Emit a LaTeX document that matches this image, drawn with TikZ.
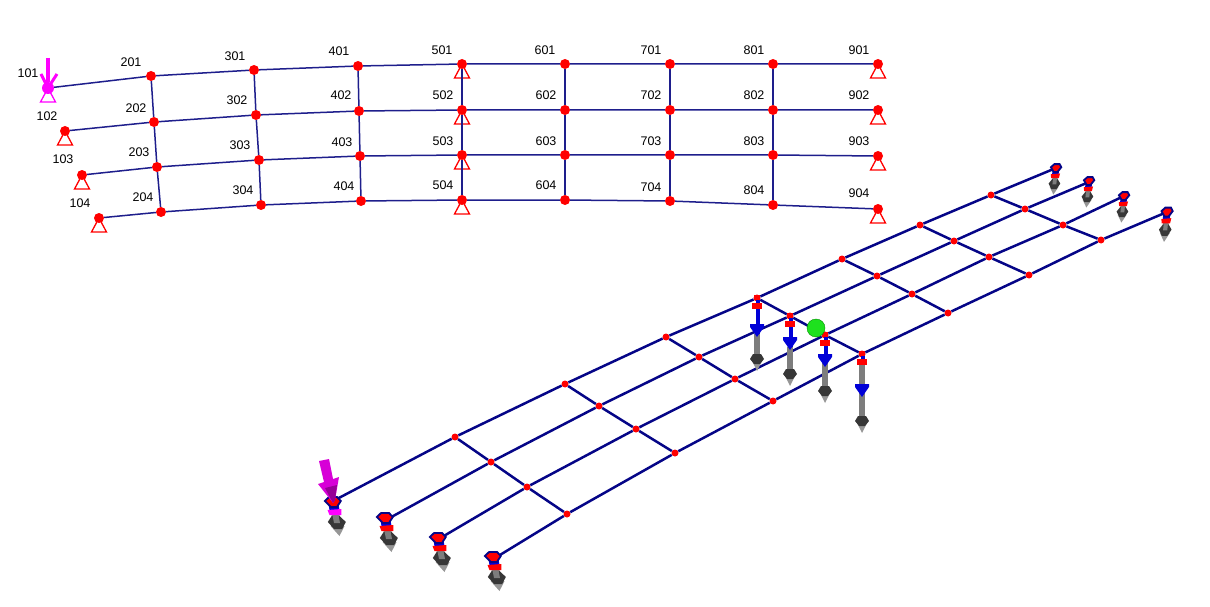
\documentclass[tikz,border=0pt]{standalone}
\usepackage{fontspec}
\setmainfont{Liberation Sans}
\usetikzlibrary{positioning}
\definecolor{planline}{RGB}{30,30,140}
\definecolor{deckline}{RGB}{5,5,135}
\definecolor{rodgrey}{RGB}{125,125,125}
\definecolor{discgrey}{RGB}{55,55,55}
\definecolor{tipgrey}{RGB}{150,150,150}
\definecolor{loadblue}{RGB}{0,0,215}
\definecolor{pinkplan}{RGB}{255,0,255}
\definecolor{pinkload}{RGB}{215,0,215}
\definecolor{pinkdark}{RGB}{150,0,150}
\definecolor{ballgreen}{RGB}{30,225,30}
\definecolor{pureblack}{RGB}{0,0,0}
\definecolor{purered}{RGB}{255,0,0}
\begin{document}
\begin{tikzpicture}[
    x=1pt, y=-1pt,
    joint/.style={circle, fill=purered, inner sep=0pt, minimum size=10pt},
    deckjoint/.style={circle, fill=purered, inner sep=0pt, minimum size=7pt},
    num/.style={inner sep=0pt, text=pureblack, font=\fontsize{12.5}{14}\selectfont},
    planbeam/.style={draw=planline, line width=1.5pt},
    deckbeam/.style={draw=deckline, line width=2.5pt},
    pics/support/.style={code={
        \draw[#1, line width=1.3pt, fill=white] (0,0) -- (-7.5,14) -- (7.5,14) -- cycle;
    }},
    pics/footing/.style={code={
        \fill[rodgrey] (-4,12) rectangle (4,24);
        \fill[tipgrey] (-7,24) -- (7,24) -- (0,34) -- cycle;
        \fill[discgrey] (-9,20) -- (-4,14) -- (4,14) -- (9,20) -- (4,27) -- (-4,27) -- cycle;
        \fill[rodgrey] (-3,12) rectangle (3,21);
        \fill[loadblue] (-5,3) rectangle (5,8);
        \fill[#1] (-7,8) -- (7,7) -- (6,13) -- (-6,13) -- cycle;
        \draw[deckline, line width=1.8pt, fill=purered] (-8,-1) -- (-3,-5) -- (5,-5) -- (8,-1) -- (3,5) -- (-3,5) -- cycle;
    }},
    pics/loadarrow/.style n args={3}{code={
        \draw[loadblue, line width=4pt] (1,2) -- (1,#1);
        \fill[rodgrey] (-3,#3) rectangle (3,#2);
        \fill[loadblue] (-7,{#1-10}) -- (7,{#1-10}) -- (7,{#1-7}) -- (0,{#1+3}) -- (-7,{#1-7}) -- cycle;
        \fill[tipgrey] (-6,{#2+1}) -- (6,{#2+1}) -- (0,#2+13) -- cycle;
        \fill[discgrey] (-7,{#2+1}) -- (-4,{#2-4}) -- (4,{#2-4}) -- (7,{#2+1}) -- (3,{#2+6}) -- (-3,{#2+6}) -- cycle;
        \fill[purered] (-3,-3) rectangle (3,2);
        \fill[purered] (-5,5) rectangle (5,11);
    }}
]
\useasboundingbox (0,0) rectangle (1210,607);

% Plan view: supports go under the joints
\pic at (48,88) {support={pinkplan, line width=2pt}};
\pic at (65,131) {support=purered};
\pic at (82,175) {support=purered};
\pic at (99,218) {support=purered};
\pic at (462,64) {support=purered};
\pic at (462,110) {support=purered};
\pic at (462,155) {support=purered};
\pic at (462,200) {support=purered};
\pic at (878,64) {support=purered};
\pic at (878,110) {support=purered};
\pic at (878,156) {support=purered};
\pic at (878,209) {support=purered};

% Plan view: first line of joints
\node[joint, fill=pinkplan, minimum size=12pt] (p101) at (48,88) {};
\node[joint] (p201) at (151,76) {};
\node[joint] (p301) at (254,70) {};
\node[joint] (p401) at (358,66) {};
\node[joint] (p501) at (462,64) {};
\node[joint] (p601) at (565,64) {};
\node[joint] (p701) at (670,64) {};
\node[joint] (p801) at (773,64) {};
\node[joint] (p901) at (878,64) {};
% second line
\node[joint] (p102) at (65,131) {};
\node[joint] (p202) at (154,122) {};
\node[joint] (p302) at (256,115) {};
\node[joint] (p402) at (359,111) {};
\node[joint] (p502) at (462,110) {};
\node[joint] (p602) at (565,110) {};
\node[joint] (p702) at (670,110) {};
\node[joint] (p802) at (773,110) {};
\node[joint] (p902) at (878,110) {};
% third line
\node[joint] (p103) at (82,175) {};
\node[joint] (p203) at (157,167) {};
\node[joint] (p303) at (259,160) {};
\node[joint] (p403) at (360,156) {};
\node[joint] (p503) at (462,155) {};
\node[joint] (p603) at (565,155) {};
\node[joint] (p703) at (670,155) {};
\node[joint] (p803) at (773,155) {};
\node[joint] (p903) at (878,156) {};
% fourth line
\node[joint] (p104) at (99,218) {};
\node[joint] (p204) at (161,212) {};
\node[joint] (p304) at (261,205) {};
\node[joint] (p404) at (361,201) {};
\node[joint] (p504) at (462,200) {};
\node[joint] (p604) at (565,200) {};
\node[joint] (p704) at (670,201) {};
\node[joint] (p804) at (773,205) {};
\node[joint] (p904) at (878,209) {};

% Plan view: joint numbers
\node[num] (t101) at (28,73) {101};
\node[num] (t201) at (131,62) {201};
\node[num] (t301) at (235,56) {301};
\node[num] (t401) at (339,51) {401};
\node[num] (t501) at (442,50) {501};
\node[num] (t601) at (545,50) {601};
\node[num] (t701) at (651,50) {701};
\node[num] (t801) at (754,50) {801};
\node[num] (t901) at (859,50) {901};
\node[num] (t102) at (47,116) {102};
\node[num] (t202) at (136,108) {202};
\node[num] (t302) at (237,100) {302};
\node[num] (t402) at (341,95) {402};
\node[num] (t502) at (443,95) {502};
\node[num] (t602) at (546,95) {602};
\node[num] (t702) at (651,95) {702};
\node[num] (t802) at (754,95) {802};
\node[num] (t902) at (859,95) {902};
\node[num] (t103) at (63,159) {103};
\node[num] (t203) at (139,152) {203};
\node[num] (t303) at (240,145) {303};
\node[num] (t403) at (342,142) {403};
\node[num] (t503) at (443,141) {503};
\node[num] (t603) at (546,141) {603};
\node[num] (t703) at (651,141) {703};
\node[num] (t803) at (754,141) {803};
\node[num] (t903) at (859,141) {903};
\node[num] (t104) at (80,203) {104};
\node[num] (t204) at (143,197) {204};
\node[num] (t304) at (243,190) {304};
\node[num] (t404) at (344,186) {404};
\node[num] (t504) at (443,185) {504};
\node[num] (t604) at (546,185) {604};
\node[num] (t704) at (651,187) {704};
\node[num] (t804) at (754,190) {804};
\node[num] (t904) at (859,193) {904};

% Plan view: beams
\draw[planbeam] (p101) -- (p201) -- (p301) -- (p401) -- (p501) -- (p601) -- (p701) -- (p801) -- (p901);
\draw[planbeam] (p102) -- (p202) -- (p302) -- (p402) -- (p502) -- (p602) -- (p702) -- (p802) -- (p902);
\draw[planbeam] (p103) -- (p203) -- (p303) -- (p403) -- (p503) -- (p603) -- (p703) -- (p803) -- (p903);
\draw[planbeam] (p104) -- (p204) -- (p304) -- (p404) -- (p504) -- (p604) -- (p704) -- (p804) -- (p904);
\draw[planbeam] (p201) -- (p202) -- (p203) -- (p204);
\draw[planbeam] (p301) -- (p302) -- (p303) -- (p304);
\draw[planbeam] (p401) -- (p402) -- (p403) -- (p404);
\draw[planbeam] (p501) -- (p502) -- (p503) -- (p504);
\draw[planbeam] (p601) -- (p602) -- (p603) -- (p604);
\draw[planbeam] (p701) -- (p702) -- (p703) -- (p704);
\draw[planbeam] (p801) -- (p802) -- (p803) -- (p804);

% Plan view: load on joint 101
\coordinate (plantop) at (48,58);
\draw[pinkplan, line width=3.2pt] (plantop) -- (p101);
\draw[pinkplan, line width=3pt] (41,74) -- (p101.center) -- (57,74);

% Deck view: joints, girder by girder
\node[deckjoint] (g101) at (335,500) {};
\node[deckjoint] (g201) at (455,437) {};
\node[deckjoint] (g301) at (565,384) {};
\node[deckjoint] (g401) at (666,337) {};
\node[deckjoint] (g501) at (757,298) {};
\node[deckjoint] (g601) at (842,259) {};
\node[deckjoint] (g701) at (920,225) {};
\node[deckjoint] (g801) at (991,195) {};
\node[deckjoint] (g901) at (1056,168) {};
\node[deckjoint] (g102) at (386,520) {};
\node[deckjoint] (g202) at (491,462) {};
\node[deckjoint] (g302) at (599,406) {};
\node[deckjoint] (g402) at (699,357) {};
\node[deckjoint] (g502) at (790,316) {};
\node[deckjoint] (g602) at (877,276) {};
\node[deckjoint] (g702) at (954,241) {};
\node[deckjoint] (g802) at (1025,209) {};
\node[deckjoint] (g902) at (1089,182) {};
\node[deckjoint] (g103) at (437,540) {};
\node[deckjoint] (g203) at (527,487) {};
\node[deckjoint] (g303) at (636,429) {};
\node[deckjoint] (g403) at (735,379) {};
\node[deckjoint] (g503) at (825,335) {};
\node[deckjoint] (g603) at (912,294) {};
\node[deckjoint] (g703) at (989,257) {};
\node[deckjoint] (g803) at (1063,225) {};
\node[deckjoint] (g903) at (1124,196) {};
\node[deckjoint] (g104) at (495,558) {};
\node[deckjoint] (g204) at (567,514) {};
\node[deckjoint] (g304) at (675,453) {};
\node[deckjoint] (g404) at (773,401) {};
\node[deckjoint] (g504) at (862,354) {};
\node[deckjoint] (g604) at (948,313) {};
\node[deckjoint] (g704) at (1029,275) {};
\node[deckjoint] (g804) at (1101,240) {};
\node[deckjoint] (g904) at (1167,212) {};

% Deck view: girders and cross beams
\draw[deckbeam] (g101) -- (g201) -- (g301) -- (g401) -- (g501) -- (g601) -- (g701) -- (g801) -- (g901);
\draw[deckbeam] (g102) -- (g202) -- (g302) -- (g402) -- (g502) -- (g602) -- (g702) -- (g802) -- (g902);
\draw[deckbeam] (g103) -- (g203) -- (g303) -- (g403) -- (g503) -- (g603) -- (g703) -- (g803) -- (g903);
\draw[deckbeam] (g104) -- (g204) -- (g304) -- (g404) -- (g504) -- (g604) -- (g704) -- (g804) -- (g904);
\draw[deckbeam] (g201) -- (g202) -- (g203) -- (g204);
\draw[deckbeam] (g301) -- (g302) -- (g303) -- (g304);
\draw[deckbeam] (g401) -- (g402) -- (g403) -- (g404);
\draw[deckbeam] (g501) -- (g502) -- (g503) -- (g504);
\draw[deckbeam] (g601) -- (g602) -- (g603) -- (g604);
\draw[deckbeam] (g701) -- (g702) -- (g703) -- (g704);
\draw[deckbeam] (g801) -- (g802) -- (g803) -- (g804);

% Deck view: bearings at the near end
\pic[xslant=-0.19] at (333,502) {footing=pinkplan};
\pic[xslant=-0.19] at (385,518) {footing=purered};
\pic[xslant=-0.19] at (438,538) {footing=purered};
\pic[xslant=-0.19] at (493,557) {footing=purered};
% bearings at the far end
\pic[xslant=0.1, xscale=0.65, yscale=0.78] at (1056,168) {footing=purered};
\pic[xslant=0.1, xscale=0.65, yscale=0.78] at (1089,181) {footing=purered};
\pic[xslant=0.1, xscale=0.65, yscale=0.78] at (1124,196) {footing=purered};
\pic[xslant=0.1, xscale=0.7, yscale=0.88] at (1167,212) {footing=purered};

% Deck view: mid-span bearings
\pic at (g501.center) {loadarrow={36}{60}{36}};
\pic at (g502.center) {loadarrow={31}{57}{31}};
\pic at (g503.center) {loadarrow={29}{55}{24}};
\pic at (g504.center) {loadarrow={40}{66}{11}};

% Deck view: reference ball and pink load
\node[circle, fill=ballgreen, draw=green!55!black, line width=0.4pt, inner sep=0pt, minimum size=18pt] (ball) at (816,328) {};
\fill[pinkload] (319,461) -- (329,459) -- (333,479) -- (339,477) -- (335,500) -- (333,503) -- (318,484) -- (324,482) -- cycle;
\fill[pinkdark] (325,488) -- (337,485) -- (335,500) -- (333,503) -- cycle;
\end{tikzpicture}
\end{document}
